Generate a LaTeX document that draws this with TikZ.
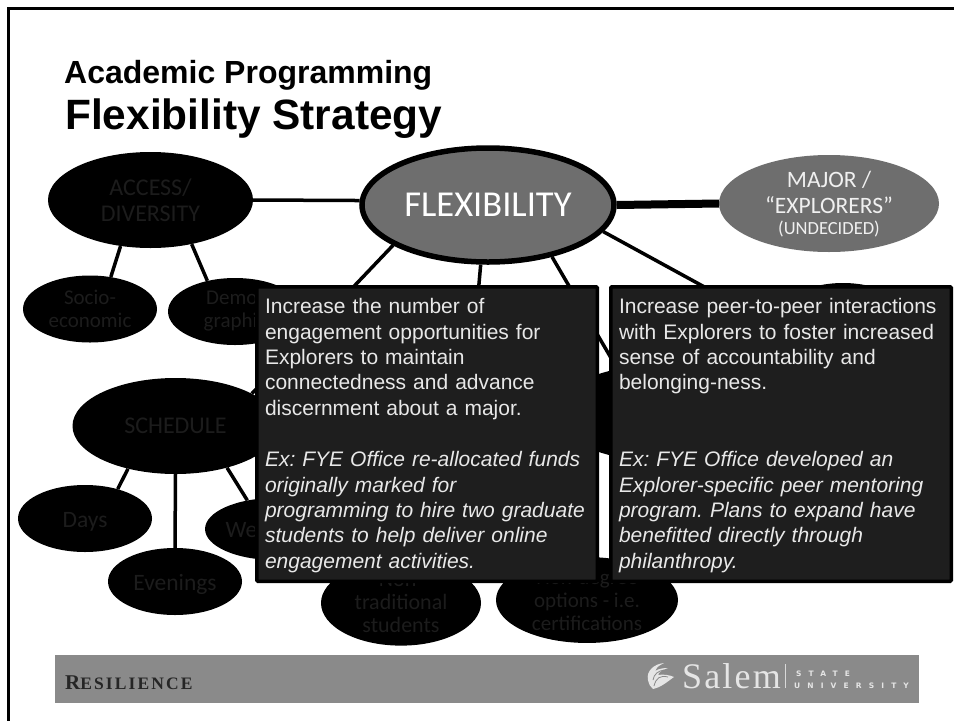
\documentclass[tikz,border=0pt]{standalone}
\usepackage{fontspec}
\setmainfont{Liberation Sans}
\newfontfamily\calfont{Carlito}
\newfontfamily\resfont[LetterSpace=12]{Liberation Serif}
\newfontfamily\salemfont[LetterSpace=6]{Liberation Serif}
\newfontfamily\statefont[LetterSpace=95]{DejaVu Sans}
\usetikzlibrary{shapes.geometric}
\definecolor{midgray}{HTML}{6E6E6E}
\definecolor{bargray}{HTML}{8A8A8A}
\definecolor{boxgray}{HTML}{1E1E1E}
\definecolor{dimtext}{HTML}{1C1C1C}
\definecolor{boxtext}{HTML}{E8E8E8}
\tikzset{
  blob/.style={ellipse, fill=black, inner sep=0pt, align=center, text=dimtext, font=\calfont\fontsize{21}{23}\selectfont},
  link/.style={line width=3.5pt},
  notebox/.style={draw=black, fill=boxgray, line width=3.5pt, rounded corners=1pt, anchor=north west,
    minimum width=340.5pt, minimum height=294.5pt, inner xsep=8pt, inner ysep=0pt, align=left,
    text width=324pt, text=boxtext, font=\fontsize{21}{25.4}\selectfont},
}
\begin{document}
\frenchspacing
\begin{tikzpicture}[x=1pt, y=-1pt]
\useasboundingbox (0,0) rectangle (954,721);
\fill[white] (0,0) rectangle (954,721);
\draw[line width=3.2pt] (954,8.6) -- (8.6,8.6) -- (8.6,721);
\node[anchor=base west, inner sep=0pt, font=\bfseries\fontsize{32}{33}\selectfont] (title) at (64,83) {Academic Programming};
\node[anchor=base west, inner sep=0pt, font=\bfseries\fontsize{42.4}{43}\selectfont] (subtitle) at (65,129) {Flexibility Strategy};
% ellipses
\node[blob, minimum width=205pt, minimum height=96pt, font=\calfont\fontsize{24}{26}\selectfont] (access) at (150.5,200) {ACCESS/\\DIVERSITY};
\node[blob, minimum width=206pt, minimum height=96pt, font=\calfont\fontsize{24}{26}\selectfont] (schedule) at (175.5,426) {SCHEDULE};
\node[blob, draw=black, fill=midgray, line width=5.5pt, minimum width=252pt, minimum height=114pt, text=white, font=\calfont\fontsize{36.5}{38}\selectfont] (flex) at (488,205) {FLEXIBILITY};
\node[ellipse, fill=midgray, inner sep=0pt, minimum width=220pt, minimum height=97pt, align=center, text=white!94!black, font=\calfont\fontsize{23.5}{26}\selectfont] (major) at (829,203.5) {\rule{0pt}{18pt}MAJOR /\\“EXPLORERS”\\[-5pt]{\fontsize{18.5}{20}\selectfont (UNDECIDED)}};
\foreach \name/\xx/\yy/\txt in {socio/90/309/Socio-\\economic, demo/235/311.5/Demo-\\graphic}
\node[blob, minimum width=134pt, minimum height=67pt] (\name) at (\xx,\yy) {\txt};
\foreach \name/\xx/\yy/\tall/\txt in {days/85/518.5/67/Days, evenings/175/581.5/67/Evenings, weekends/275/529/62/Weekends}
\node[blob, minimum width=134pt, minimum height=\tall pt, font=\calfont\fontsize{23.5}{25}\selectfont] (\name) at (\xx,\yy) {\rule[-7.5pt]{0pt}{32.5pt}\txt};
\node[blob, minimum width=160pt, minimum height=78pt, font=\calfont\fontsize{22}{23}\selectfont] (nontrad) at (401,603) {Non-\\traditional\\students};
\node[blob, minimum width=182pt, minimum height=80pt] (nondegree) at (587,600) {Non-degree\\options - i.e.\\certifications};
\node[blob, minimum width=210pt, minimum height=96pt] (middle) at (660,413) {};
\node[blob, minimum width=150pt, minimum height=94pt] (upper) at (843,330) {};
\coordinate (drop) at (478,295);
% connectors
\draw[link] (access.east) -- (flex.178);
\draw[line width=8pt] (flex.east) -- (major.west);
\draw[link] (access.237.6) -- (socio.57);
\draw[link] (access.-47.7) -- (demo.132.6);
\draw[link] (schedule.222) -- (days.42);
\draw[link] (schedule.270) -- (evenings.90);
\draw[link] (schedule.-39.6) -- (weekends.134);
\draw[link] (flex.203.8) -- (schedule.23.2);
\draw[link] (flex.263) -- (drop);
\draw[link] (flex.-39.2) -- (middle.134);
\draw[link] (flex.-13.7) -- (upper.174);
% text boxes
\node[notebox] (leftnote) at (255,285) {\rule{0pt}{18.5pt}Increase the number of\\engagement opportunities for\\Explorers to maintain\\connectedness and advance\\discernment about a major.\\[26pt]
\itshape Ex: FYE Office re-allocated funds\\\itshape originally marked for\\\itshape programming to hire two graduate\\\itshape students to help deliver online\\\itshape engagement activities.};
\node[notebox] (rightnote) at (609,285) {\rule{0pt}{18.5pt}Increase peer-to-peer interactions\\with Explorers to foster increased\\sense of accountability and\\belonging-ness.\\[51.4pt]
\itshape Ex: FYE Office developed an\\\itshape Explorer-specific peer mentoring\\\itshape program. Plans to expand have\\\itshape benefitted directly through\\\itshape philanthropy.};
% footer
\fill[bargray] (55,655) rectangle (919,703);
\node[anchor=base west, inner sep=0pt, text=black!85] (resilience) at (65,689) {\resfont\bfseries\fontsize{21}{22}\selectfont R\fontsize{17.5}{22}\selectfont ESILIENCE};
\node[anchor=base west, inner sep=0pt, text=white!90!black, font=\salemfont\fontsize{36}{36}\selectfont] (salem) at (682,688) {Salem};
\draw[white!85!black, line width=.8pt] (785,664) -- (785,688);
\node[anchor=base west, inner sep=0pt, text=white!90!black, font=\statefont\bfseries\fontsize{7.5}{8}\selectfont] (state) at (796,676) {STATE};
\node[anchor=base west, inner sep=0pt, text=white!90!black, font=\statefont\bfseries\fontsize{7.5}{8}\selectfont] (univ) at (794,688) {UNIVERSITY};
% leaf mark
\fill[white!90!black] (648,680) .. controls (646,671) and (654,664) .. (664,663) .. controls (658,666) and (656,668) .. (655,671) .. controls (660,668) and (665,668) .. (668,668) .. controls (662,670) and (659,672) .. (658,675) .. controls (663,674) and (670,675) .. (674,677) .. controls (668,681) and (662,687) .. (653,689) .. controls (650,687) and (649,684) .. (648,680) -- cycle;
\draw[bargray, line width=.8pt] (654,686) .. controls (656,678) and (660,675) .. (668,677) (653,680) .. controls (654,674) and (658,671) .. (664,670);
\end{tikzpicture}
\end{document}
